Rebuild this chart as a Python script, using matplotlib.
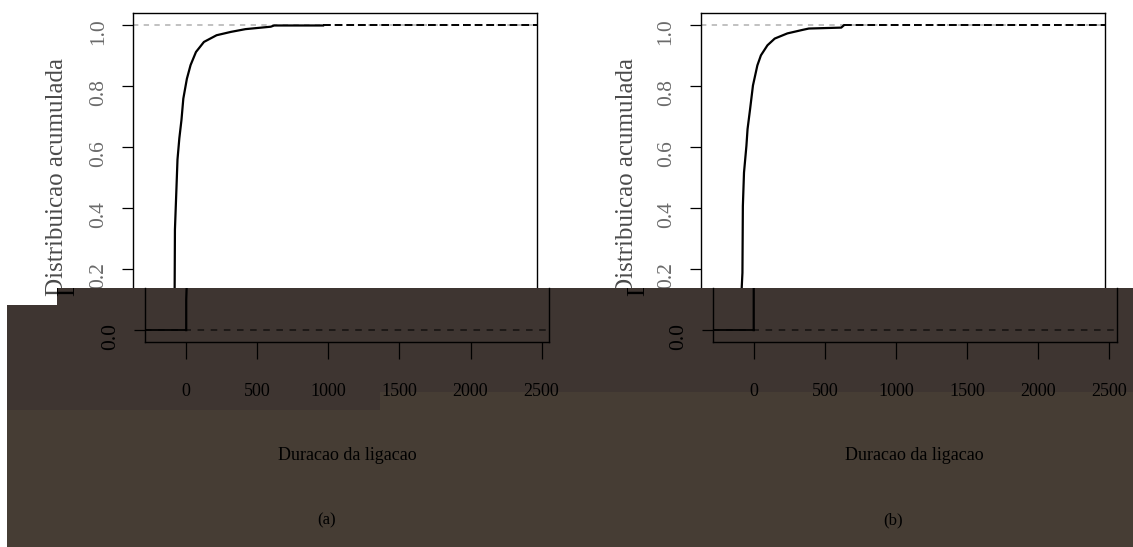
import matplotlib
matplotlib.use("Agg")
import matplotlib.pyplot as plt
from matplotlib.patches import Rectangle
from matplotlib.transforms import Bbox, TransformedBbox

# Dados (duracao, distribuicao acumulada)
duracao_a = [0, 0, 3, 5, 16, 23, 36, 51, 64, 89, 115, 153, 209, 298, 399, 501, 679, 703, 1047]
acum_a = [0, 0.10, 0.14, 0.33, 0.47, 0.56, 0.63, 0.69, 0.76, 0.825, 0.87, 0.913, 0.946,
          0.968, 0.979, 0.988, 0.996, 1.0, 1.0]
duracao_b = [0, 0, 5, 8, 16, 33, 41, 59, 79, 110, 135, 181, 232, 321, 423, 472, 700, 717]
acum_b = [0, 0.14, 0.188, 0.407, 0.517, 0.605, 0.66, 0.726, 0.803, 0.869, 0.902, 0.935,
          0.957, 0.974, 0.985, 0.99, 0.993, 1.0]

xticks = [0, 500, 1000, 1500, 2000, 2500]
yticks = [0.0, 0.2, 0.4, 0.6, 0.8, 1.0]
xlab = "Duracao da ligacao"
ylab = "Distribuicao acumulada"
paineis = ["(a)", "(b)"]

plt.rcParams["font.family"] = ["Liberation Serif", "DejaVu Serif"]

W, H = 1133, 547
fig = plt.figure(figsize=(W / 100, H / 100), dpi=100)
fig.patch.set_facecolor("white")


def px(x0, y0, w, h):
    # caixa em pixels (origem no topo) -> coordenadas da figura
    return [x0 / W, 1 - (y0 + h) / H, w / W, h / H]


def retangulo(x0, y0, w, h, cor):
    fig.add_artist(Rectangle((x0 / W, 1 - (y0 + h) / H), w / W, h / H,
                             transform=fig.transFigure, facecolor=cor,
                             edgecolor="none", zorder=1))


XLIM = (-290, 2552)
YLIM = (-0.04, 1.04)
topo, base, corte = 13.3, 342.3, 288
v_corte = YLIM[0] + (base - corte) / (base - topo) * (YLIM[1] - YLIM[0])
larg = 404
desloc = 12  # a parte de baixo da imagem esta deslocada para a direita

esquerdas = [133, 700.5]
centro_ylab = [57, 627]
centro_painel = [327, 893]
dados = [(duracao_a, acum_a), (duracao_b, acum_b)]


def desenha(ax, x, y):
    ax.axhline(1, color="#b0b0b0", lw=1.1, ls=(0, (3.5, 3.5)), zorder=1)
    ax.axhline(0, color="#141110", lw=1.1, ls=(0, (4.3, 4.3)), zorder=1)
    ax.plot(x, y, color="black", lw=1.6, zorder=3)
    ax.plot([XLIM[0], x[0]], [y[0], y[0]], color="black", lw=1.3, zorder=3)
    ax.plot([x[-1], XLIM[1]], [y[-1], y[-1]], color="black", lw=1.4,
            ls=(0, (4, 2)), zorder=3)
    ax.set_xlim(XLIM)
    ax.set_xticks(xticks)
    ax.set_yticks(yticks)
    for s in ax.spines.values():
        s.set_linewidth(1.0)
        s.set_color("black")


clip_escuro = TransformedBbox(Bbox.from_extents(0, 0, 1, 1 - corte / H), fig.transFigure)

for i in range(2):
    x, y = dados[i]
    L = esquerdas[i]

    # parte de cima (fundo branco)
    ax = fig.add_axes(px(L, topo, larg, corte - topo), zorder=0)
    ax.set_facecolor("white")
    desenha(ax, x, y)
    ax.set_ylim(v_corte, YLIM[1])
    ax.spines["bottom"].set_visible(False)
    ax.tick_params(axis="x", bottom=False, labelbottom=False)
    ax.tick_params(axis="y", length=7.9, width=0.9, pad=10, labelsize=15.5,
                   labelrotation=90, labelcolor="#6a6a6a")
    ax.set_ylabel(ylab, fontsize=18, color="#4a4a4a")
    ax.yaxis.set_label_coords(centro_ylab[i] / W, 1 - 177.5 / H, transform=fig.transFigure)
    ax.yaxis.label.set_va("center")

    # parte de baixo (fundo escuro), deslocada
    axb = fig.add_axes(px(L + desloc, corte, larg, base - corte), zorder=2)
    axb.set_facecolor("none")
    desenha(axb, x, y)
    axb.set_ylim(YLIM[0], v_corte)
    axb.spines["top"].set_visible(False)
    axb.tick_params(axis="y", length=7.9, width=0.9, pad=10, labelsize=15.5,
                    labelrotation=90, labelcolor="black")
    axb.tick_params(axis="x", length=12, width=0.9, pad=17, labelsize=13,
                    labelcolor="black")
    axb.set_ylabel(ylab, fontsize=18, color="black")
    axb.yaxis.set_label_coords((centro_ylab[i] + desloc) / W, 1 - 177.5 / H,
                               transform=fig.transFigure)
    axb.yaxis.label.set_va("center")
    axb.yaxis.label.set_clip_box(clip_escuro)
    axb.yaxis.label.set_clip_on(True)
    axb.set_xlabel(xlab, fontsize=13, color="black")
    axb.xaxis.set_label_coords((L + desloc + larg / 2) / W, 1 - 455 / H,
                               transform=fig.transFigure)
    axb.xaxis.label.set_va("center")

    fig.text(centro_painel[i] / W, 1 - 520 / H, paineis[i], fontsize=12,
             ha="center", va="center", color="black", zorder=3)

# faixa escura por cima da parte de baixo
retangulo(57, corte, W - 57, H - corte, "#3e3531")
retangulo(7, 305, 50, H - 305, "#3e3531")
retangulo(7, 410, 373, H - 410, "#463d34")
retangulo(380, 392, W - 380, H - 392, "#463d34")

fig.savefig("out.png", dpi=100, facecolor="white")
